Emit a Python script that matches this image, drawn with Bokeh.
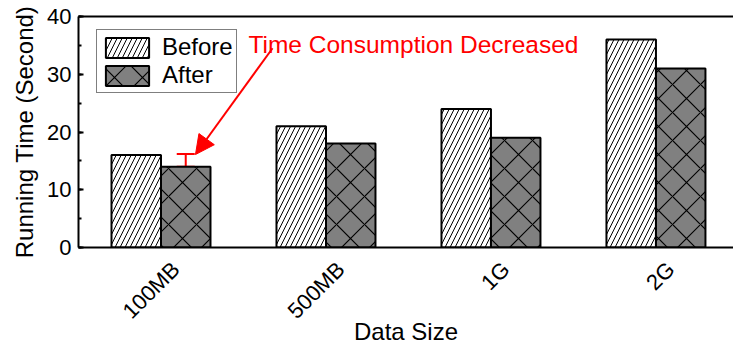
import math
from bokeh.plotting import figure
from bokeh.models import (ColumnDataSource, Range1d, Whisker, TeeHead, Arrow, NormalHead,
                          Label, LinearAxis, SingleIntervalTicker, FixedTicker, Legend,
                          LegendItem, CustomJSTickFormatter)
from bokeh.transform import dodge
from bokeh.embed import file_html
from bokeh.resources import INLINE

# ---- data ----
categories = ["100MB", "500MB", "1G", "2G"]
before = [16, 21, 24, 36]
after = [14, 18, 19, 31]
series_names = ["Before", "After"]
err_index = [0]
err_lower = [14]
err_upper = [16.2]
y_major_interval = 10
y_end = 40
x_label = "Data Size"
y_label = "Running Time (Second)"
note_text = "Time Consumption Decreased"

FONT = "Liberation Sans"
idx = list(range(len(categories)))
LABEL_SHIFT = 0.09  # horizontal shift of the rotated category labels

src = ColumnDataSource(dict(idx=idx, before=before, after=after))
err_src = ColumnDataSource(dict(idx=err_index, lower=err_lower, upper=err_upper))

p = figure(width=733, height=348, output_backend="svg", toolbar_location=None,
           x_range=Range1d(-0.5, 3.47), y_range=Range1d(0, y_end),
           min_border_left=78, min_border_right=0, min_border_top=16,
           min_border_bottom=100)
p.outline_line_color = None
p.xgrid.visible = False
p.ygrid.visible = False

r_before = p.vbar(x=dodge("idx", -0.15, range=p.x_range), top="before", width=0.3,
                  bottom=0, source=src, fill_color="white", line_color="black",
                  line_width=2, hatch_pattern="/", hatch_scale=10, hatch_weight=1,
                  hatch_color="black")
r_after = p.vbar(x=dodge("idx", 0.15, range=p.x_range), top="after", width=0.3,
                 bottom=0, source=src, fill_color="#808080", line_color="black",
                 line_width=2, hatch_pattern="x", hatch_scale=28, hatch_weight=1.2,
                 hatch_color="black")

wh = Whisker(base=dodge("idx", 0.15, range=p.x_range), lower="lower", upper="upper",
             source=err_src, line_color="red", line_width=2,
             upper_head=TeeHead(size=18, line_color="red", line_width=2),
             lower_head=TeeHead(size=18, line_color="red", line_width=2))
p.add_layout(wh)

p.add_layout(Arrow(end=NormalHead(size=19, fill_color="red", line_color="red"),
                   x_start=0.676, y_start=34.5, x_end=0.209, y_end=16.1,
                   line_color="red", line_width=2))
p.add_layout(Label(x=0.53, y=35.2, text=note_text, text_color="red",
                   text_font=FONT, text_font_size="24.5px", text_baseline="alphabetic"))

# left axis
ya = p.yaxis[0]
ya.ticker = SingleIntervalTicker(interval=y_major_interval, num_minor_ticks=2)
ya.axis_line_width = 2
ya.major_tick_in = 5
ya.major_tick_out = 0
ya.minor_tick_in = 3
ya.minor_tick_out = 0
ya.major_tick_line_width = 2
ya.minor_tick_line_width = 2
ya.major_label_text_font = FONT
ya.major_label_text_font_size = "22px"
ya.major_label_text_color = "black"
ya.major_label_standoff = 7
ya.axis_label = y_label
ya.axis_label_text_font = FONT
ya.axis_label_text_font_size = "24px"
ya.axis_label_text_font_style = "normal"
ya.axis_label_text_color = "black"
ya.axis_label_standoff = 6

# bottom axis
xa = p.xaxis[0]
xa.ticker = FixedTicker(ticks=[i + LABEL_SHIFT for i in idx])
xa.formatter = CustomJSTickFormatter(args=dict(cats=categories, shift=LABEL_SHIFT),
                                     code="return cats[Math.round(tick - shift)];")
xa.major_label_orientation = math.pi / 4
xa.axis_line_width = 2
xa.major_tick_line_color = None
xa.minor_tick_line_color = None
xa.major_label_text_font = FONT
xa.major_label_text_font_size = "22px"
xa.major_label_text_color = "black"
xa.major_label_standoff = 12
xa.axis_label = x_label
xa.axis_label_text_font = FONT
xa.axis_label_text_font_size = "24px"
xa.axis_label_text_font_style = "normal"
xa.axis_label_text_color = "black"
xa.axis_label_standoff = -17

# top frame line
top = LinearAxis(ticker=FixedTicker(ticks=[]), axis_line_width=2,
                 major_tick_line_color=None, minor_tick_line_color=None,
                 major_label_standoff=0)
p.add_layout(top, "above")

legend = Legend(items=[LegendItem(label=series_names[0], renderers=[r_before]),
                       LegendItem(label=series_names[1], renderers=[r_after])],
                location=(18, 154), label_text_font=FONT, label_text_font_size="24px",
                glyph_width=54, glyph_height=25, label_standoff=8, padding=3,
                spacing=0, margin=0, border_line_color="black", border_line_width=1.5,
                label_height=25, label_text_color="black")
p.add_layout(legend)

open("out.html", "w").write(file_html(p, INLINE))
